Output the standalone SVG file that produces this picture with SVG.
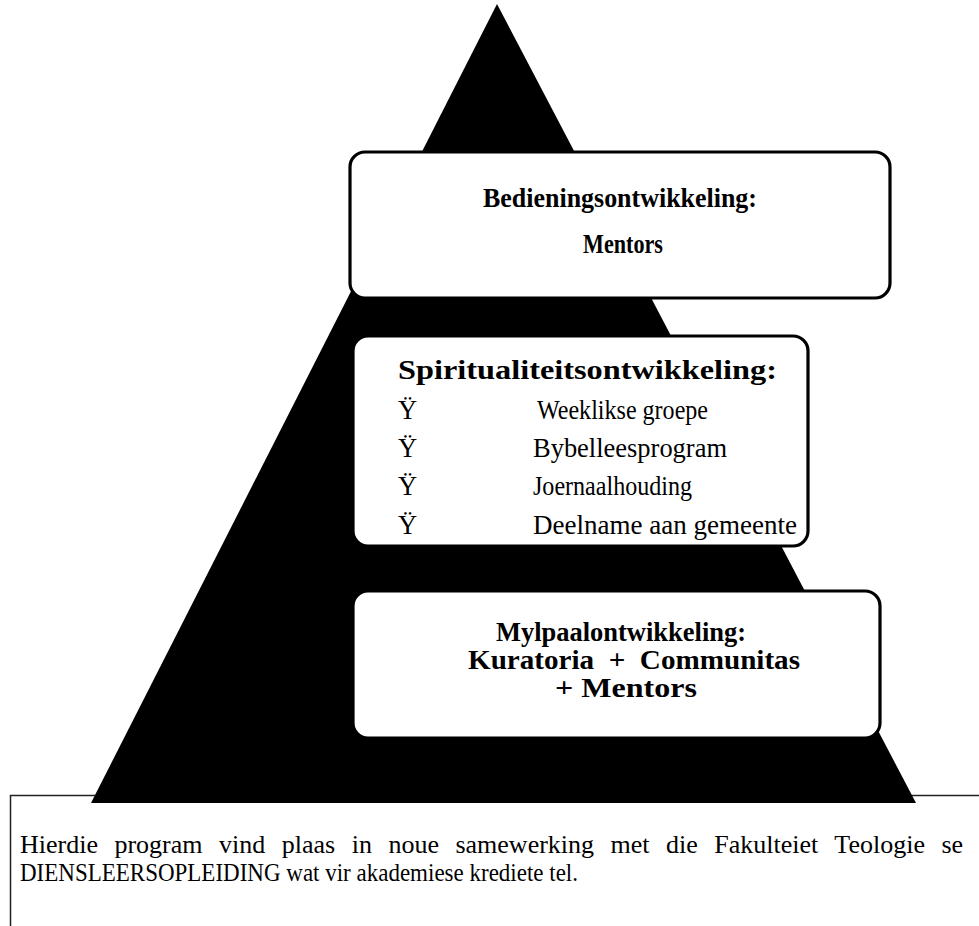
<svg xmlns="http://www.w3.org/2000/svg" width="979" height="926" viewBox="0 0 979 926">
<style>
.t{font-family:"Liberation Serif","Times New Roman",serif;fill:#000}
.b{font-weight:bold;font-size:28px}
.r{font-size:26.5px}
.n{font-size:26px}
.box{fill:#fff;stroke:#000;stroke-width:3.2}
</style>
<rect x="0" y="0" width="979" height="926" fill="#fff"/>
<g id="note-frame">
<path d="M10.5 926 V795.5 H979" fill="none" stroke="#222" stroke-width="1.5"/>
</g>
<g id="pyramid">
<polygon points="497,4 91,803 916,803" fill="#000"/>
</g>
<g id="box-bediening">
<rect class="box" x="350" y="152" width="540" height="146" rx="15"/>
<text class="t b" x="620" y="207" text-anchor="middle" textLength="274" lengthAdjust="spacingAndGlyphs">Bedieningsontwikkeling:</text>
<text class="t b" x="623" y="253" text-anchor="middle" textLength="80" lengthAdjust="spacingAndGlyphs">Mentors</text>
</g>
<g id="box-spiritualiteit">
<rect class="box" x="353" y="336" width="455" height="210" rx="15"/>
<text class="t b" x="398" y="379" textLength="379" lengthAdjust="spacingAndGlyphs">Spiritualiteitsontwikkeling:</text>
<text class="t r" x="398" y="419">Ÿ</text><text class="t r" x="537" y="419" textLength="171" lengthAdjust="spacingAndGlyphs">Weeklikse groepe</text>
<text class="t r" x="398" y="457">Ÿ</text><text class="t r" x="533" y="457" textLength="194" lengthAdjust="spacingAndGlyphs">Bybelleesprogram</text>
<text class="t r" x="398" y="495">Ÿ</text><text class="t r" x="533" y="495" textLength="159" lengthAdjust="spacingAndGlyphs">Joernaalhouding</text>
<text class="t r" x="398" y="534">Ÿ</text><text class="t r" x="533" y="534" textLength="264" lengthAdjust="spacingAndGlyphs">Deelname aan gemeente</text>
</g>
<g id="box-mylpaal">
<rect class="box" x="353" y="591" width="527" height="147" rx="15"/>
<text class="t b" x="621" y="641" text-anchor="middle" textLength="250" lengthAdjust="spacingAndGlyphs">Mylpaalontwikkeling:</text>
<text class="t b" x="634" y="669" text-anchor="middle" xml:space="preserve" textLength="332" lengthAdjust="spacingAndGlyphs">Kuratoria  +  Communitas</text>
<text class="t b" x="626" y="697" text-anchor="middle" textLength="142" lengthAdjust="spacingAndGlyphs">+ Mentors</text>
</g>
<g id="note">
<text class="t n" x="20" y="853" word-spacing="10">Hierdie program vind plaas in noue samewerking met die Fakulteiet Teologie se</text>
<text class="t n" x="20" y="881" textLength="558" lengthAdjust="spacingAndGlyphs">DIENSLEERSOPLEIDING wat vir akademiese krediete tel.</text>
</g>
<g id="connectors"/>
</svg>
